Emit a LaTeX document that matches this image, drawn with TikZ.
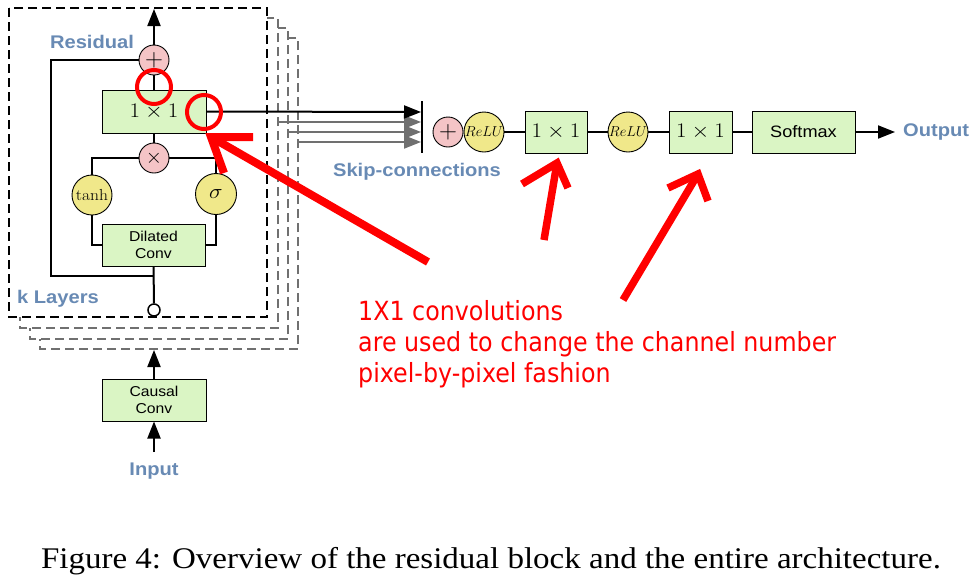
\documentclass[tikz,border=0pt]{standalone}
\usepackage{fontspec}
\usepackage{graphicx}
\usetikzlibrary{arrows.meta}
\newfontfamily\lsans{Liberation Sans}
\newfontfamily\lserif{Liberation Serif}
\newfontfamily\redfont[FakeStretch=0.9]{DejaVu Sans}
\newcommand{\hs}[1]{\scalebox{1.1}[1]{#1}}
\definecolor{cpink}{RGB}{244,196,198}
\definecolor{cyellow}{RGB}{240,232,138}
\definecolor{cgreen}{RGB}{218,245,196}
\definecolor{cblue}{RGB}{104,138,180}
\definecolor{cgray}{RGB}{112,112,112}
\tikzset{
  conn/.style={line width=2pt},
  tipA/.style={-{Triangle[length=17pt,width=13pt]}},
  gbox/.style={draw, line width=1pt, fill=cgreen, inner sep=0pt, align=center},
  pcirc/.style={circle, draw, line width=0.9pt, fill=cpink, minimum size=30pt, inner sep=0pt},
  ycirc/.style={circle, draw, line width=0.9pt, fill=cyellow, minimum size=40pt, inner sep=0pt},
  lbl/.style={text=cblue, font=\lsans\bfseries\fontsize{18.3}{20}\selectfont, inner sep=0pt},
  boxtxt/.style={font=\lsans\fontsize{14.3}{18}\selectfont},
  layerbox/.style={draw=cgray, line width=2pt, dash pattern=on 9pt off 5pt, fill=white},
  redmark/.style={draw=red, line width=7.5pt, line cap=butt, line join=miter},
  redring/.style={draw=red, line width=4pt},
  redtxt/.style={text=red, font=\redfont\fontsize{26.4}{31}\selectfont, inner sep=0pt, anchor=base west}
}
\begin{document}
\begin{tikzpicture}[x=1pt, y=-1pt]
\useasboundingbox (0,0) rectangle (977,576);

% stacked layer boxes
\draw[layerbox] (40,38) rectangle (298,349);
\draw[layerbox] (30,28) rectangle (288,339);
\draw[layerbox] (20,18) rectangle (278,328);
\draw[layerbox, draw=black] (9,8) rectangle (267,317);

% residual block nodes
\node[pcirc] (plusR) at (154,60) {\fontsize{23}{23}\selectfont$+$};
\node[gbox, minimum width=104pt, minimum height=43pt] (conv1) at (154,111.5) {\fontsize{20}{20}\selectfont\hs{$1\times 1$}};
\node[pcirc] (mult) at (154,158) {\fontsize{22}{22}\selectfont$\times$};
\node[ycirc] (tanhN) at (92,195) {\fontsize{16}{16}\selectfont\hs{$\tanh$}};
\node[ycirc, minimum size=41pt] (sigN) at (216,194) {\fontsize{22}{22}\selectfont\hs{$\sigma$}};
\node[gbox, boxtxt, minimum width=103pt, minimum height=42pt] (dil) at (153.5,245) {\hs{Dilated}\\[-1pt]\hs{Conv}};
\node[circle, draw, line width=1.5pt, fill=white, minimum size=12pt, inner sep=0pt] (inC) at (154,310) {};
\node[gbox, boxtxt, minimum width=104pt, minimum height=42pt] (causal) at (154,400) {\hs{Causal}\\[-1pt]\hs{Conv}};

\node[lbl] (resL) at (92,42) {\hs{Residual}};
\node[lbl] (kL) at (58,299) {\hs{k Layers}};
\node[lbl] (inL) at (154,471) {\hs{Input}};

\coordinate (topOut) at (154,9);
\coordinate (resCorner1) at (51,60);
\coordinate (resCorner2) at (51,276);
\coordinate (resJoin) at (154,276);

% residual block connectors
\draw[conn, tipA] (plusR.north) -- (topOut);
\draw[conn] (conv1.north) -- (plusR.south);
\draw[conn] (plusR.west) -- (resCorner1) -- (resCorner2) -- (resJoin);
\draw[conn] (mult.north) -- (conv1.south);
\draw[conn] (mult.west) -| (tanhN.north);
\draw[conn] (mult.east) -| (sigN.north);
\draw[conn] (tanhN.south) |- (dil.west);
\draw[conn] (sigN.south) |- (dil.east);
\draw[conn] (inC.north) -- (dil.south);

\coordinate (inStart) at (154,452);
\coordinate (stackIn) at (154,350);
\draw[conn, tipA] (inStart) -- (causal.south);
\draw[conn, tipA] (causal.north) -- (stackIn);

% skip connections
\coordinate (barTop) at (422,101);
\coordinate (barBot) at (422,153);
\coordinate (s0) at (421,112);
\coordinate (g1a) at (278,122); \coordinate (g1b) at (421,122);
\coordinate (g2a) at (288,132); \coordinate (g2b) at (421,132);
\coordinate (g3a) at (298,142); \coordinate (g3b) at (421,142);
\draw[conn, draw=cgray, fill=cgray, tipA] (g3a) -- (g3b);
\draw[conn, draw=cgray, fill=cgray, tipA] (g2a) -- (g2b);
\draw[conn, draw=cgray, fill=cgray, tipA] (g1a) -- (g1b);
\draw[conn, tipA] (conv1.east) -- (s0);
\draw[conn] (barTop) -- (barBot);

% output stack
\node[pcirc] (plus2) at (448,132) {\fontsize{23}{23}\selectfont$+$};
\node[ycirc] (relu1) at (484,132) {\fontsize{14.5}{14.5}\selectfont$ReLU$};
\node[gbox, minimum width=62pt, minimum height=42pt] (b1) at (556,132) {\fontsize{20}{20}\selectfont\hs{$1\times 1$}};
\node[ycirc] (relu2) at (628,132) {\fontsize{14.5}{14.5}\selectfont$ReLU$};
\node[gbox, minimum width=63pt, minimum height=42pt] (b2) at (700.5,132) {\fontsize{20}{20}\selectfont\hs{$1\times 1$}};
\node[gbox, minimum width=103pt, minimum height=42pt, font=\lsans\fontsize{16.5}{18}\selectfont] (soft) at (803.5,132) {\hs{Softmax}};
\coordinate (outEnd) at (895,132);
\node[lbl, anchor=west] (outL) at (903,132) {\hs{Output}};
\node[lbl] (skipL) at (417,172) {\hs{Skip-connections}};

\draw[conn] (relu1.east) -- (b1.west);
\draw[conn] (b1.east) -- (relu2.west);
\draw[conn] (relu2.east) -- (b2.west);
\draw[conn] (b2.east) -- (soft.west);
\draw[conn, tipA] (soft.east) -- (outEnd);

% red annotations
\draw[redring] (154,87) circle (17);
\draw[redring] (204,112) circle (17);
\draw[redmark, line width=8pt] (428,262) -- (211,137);
\draw[redmark, line width=8pt] (224,173) -- (211,137) -- (253,137);
\draw[redmark] (544,240) -- (557,163);
\draw[redmark] (522,184) -- (557,163) -- (568,188);
\draw[redmark] (623,300) -- (698,174);
\draw[redmark] (668,188) -- (698,174) -- (708,201);

\node[redtxt] (t1) at (358,320) {1X1 convolutions};
\node[redtxt] (t2) at (358,351) {are used to change the channel number};
\node[redtxt] (t3) at (358,382) {pixel-by-pixel fashion};

% caption
\node[anchor=base, inner sep=0pt, font=\lserif\fontsize{30}{32}\selectfont] (cap) at (491,568) {\scalebox{1.1}[1]{Figure 4: Overview of the residual block and the entire architecture.}};
\end{tikzpicture}
\end{document}
